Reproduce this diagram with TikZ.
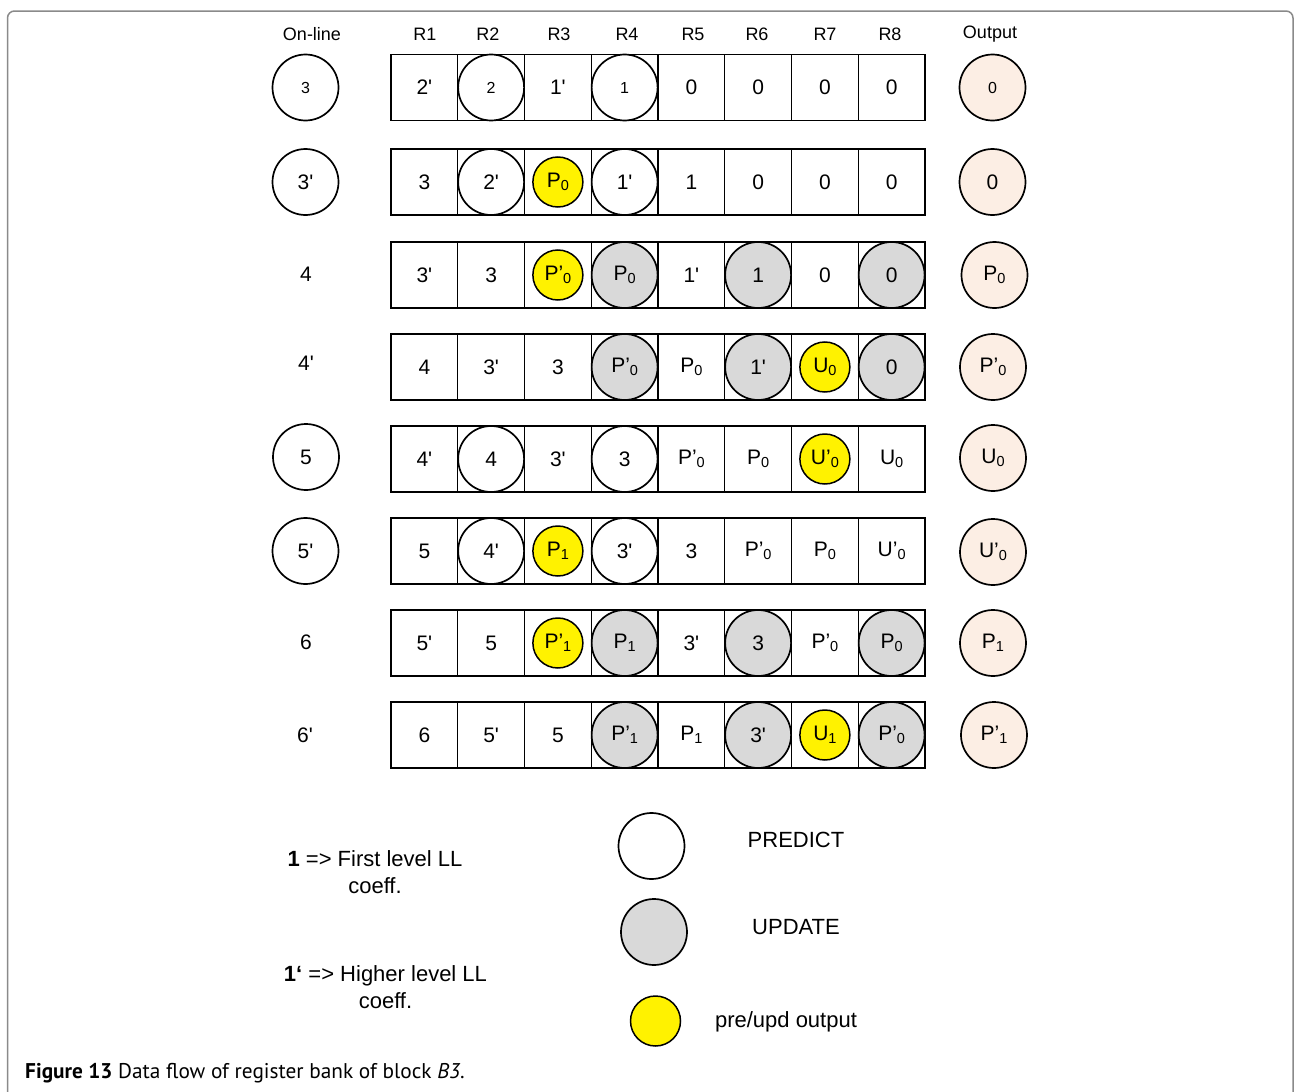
\documentclass[tikz,border=0pt]{standalone}
\usepackage{fontspec}
\newfontfamily\arial{Liberation Sans}
\newfontfamily\capfont{PT Sans}
\definecolor{updgray}{HTML}{D9D9D9}
\definecolor{outpeach}{HTML}{FCEEE4}
\definecolor{framegray}{HTML}{8A8A8A}
\newcommand\sbs[1]{\raisebox{-2.5pt}{\fontsize{14.5}{14.5}\selectfont #1}}
\newcommand\cc[4]{\node[#3] (t#1-#2) at (r#1-#2) {#4};}
\tikzset{
  base/.style={font=\arial\fontsize{21}{24}\selectfont, inner sep=0pt, text=black},
  small/.style={font=\arial\fontsize{16}{18}\selectfont},
  hdr/.style={base, font=\arial\fontsize{18}{20}\selectfont},
  leg/.style={base, font=\arial\fontsize{22}{27}\selectfont, align=center},
  cellbox/.style={draw, line width=1.1pt, minimum width=66.75pt, minimum height=66pt, inner sep=0pt},
  txt/.style={base},
  pc/.style={base, circle, draw, line width=1.7pt, fill=white, minimum size=66pt},
  uc/.style={pc, fill=updgray},
  yc/.style={base, circle, draw, line width=1.5pt, fill=yellow, minimum size=50pt},
  oc/.style={pc, fill=outpeach},
}
\begin{document}
\begin{tikzpicture}[x=1pt,y=-1pt]
\useasboundingbox[fill=white] (0,0) rectangle (1294,1092);
\draw[framegray, line width=1.5pt, rounded corners=7pt] (7.5,1100) |- (1293,11) -- (1293,1100);

% headers
\node[hdr] (hon) at (312,34) {On-line};
\foreach \k/\xx in {1/425,2/488,3/559,4/627,5/693,6/757,7/825,8/890}{
  \node[hdr] (h\k) at (\xx,34) {R\k};
}
\node[hdr] (hout) at (990,34) {Output};

% register cells
\foreach \r/\yy in {1/87.5,2/182,3/275,4/367,5/459,6/551,7/643,8/735}{
  \foreach \k in {1,...,8}{
    \node[cellbox] (r\r-\k) at ({391+66.75*(\k-0.5)},\yy) {};
  }
}

% row 1
\node[pc,small] (on1) at (305.5,87.5) {3};
\cc{1}{1}{txt}{2'}
\cc{1}{2}{pc,small}{2}
\cc{1}{3}{txt}{1'}
\cc{1}{4}{pc,small}{1}
\cc{1}{5}{txt}{0}
\cc{1}{6}{txt}{0}
\cc{1}{7}{txt}{0}
\cc{1}{8}{txt}{0}
\node[oc,small] (out1) at (992.5,87.5) {0};

% row 2
\node[pc] (on2) at (305.5,182) {3'};
\cc{2}{1}{txt}{3}
\cc{2}{2}{pc}{2'}
\cc{2}{3}{yc}{P\sbs{0}}
\cc{2}{4}{pc}{1'}
\cc{2}{5}{txt}{1}
\cc{2}{6}{txt}{0}
\cc{2}{7}{txt}{0}
\cc{2}{8}{txt}{0}
\node[oc] (out2) at (992.5,182) {0};

% row 3
\node[txt] (on3) at (306,274) {4};
\cc{3}{1}{txt}{3'}
\cc{3}{2}{txt}{3}
\cc{3}{3}{yc}{P’\sbs{0}}
\cc{3}{4}{uc}{P\sbs{0}}
\cc{3}{5}{txt}{1'}
\cc{3}{6}{uc}{1}
\cc{3}{7}{txt}{0}
\cc{3}{8}{uc}{0}
\node[oc] (out3) at (994.5,275) {P\sbs{0}};

% row 4
\node[txt] (on4) at (306,363) {4'};
\cc{4}{1}{txt}{4}
\cc{4}{2}{txt}{3'}
\cc{4}{3}{txt}{3}
\cc{4}{4}{uc}{P’\sbs{0}}
\cc{4}{5}{txt}{P\sbs{0}}
\cc{4}{6}{uc}{1'}
\cc{4}{7}{yc}{U\sbs{0}}
\cc{4}{8}{uc}{0}
\node[oc] (out4) at (993,367) {P’\sbs{0}};

% row 5
\node[pc] (on5) at (306,457) {5};
\cc{5}{1}{txt}{4'}
\cc{5}{2}{pc}{4}
\cc{5}{3}{txt}{3'}
\cc{5}{4}{pc}{3}
\cc{5}{5}{txt}{P’\sbs{0}}
\cc{5}{6}{txt}{P\sbs{0}}
\cc{5}{7}{yc}{U’\sbs{0}}
\cc{5}{8}{txt}{U\sbs{0}}
\node[oc] (out5) at (993,458) {U\sbs{0}};

% row 6
\node[pc] (on6) at (305.5,551) {5'};
\cc{6}{1}{txt}{5}
\cc{6}{2}{pc}{4'}
\cc{6}{3}{yc}{P\sbs{1}}
\cc{6}{4}{pc}{3'}
\cc{6}{5}{txt}{3}
\cc{6}{6}{txt}{P’\sbs{0}}
\cc{6}{7}{txt}{P\sbs{0}}
\cc{6}{8}{txt}{U’\sbs{0}}
\node[oc] (out6) at (993,552) {U’\sbs{0}};

% row 7
\node[txt] (on7) at (306,642) {6};
\cc{7}{1}{txt}{5'}
\cc{7}{2}{txt}{5}
\cc{7}{3}{yc}{P’\sbs{1}}
\cc{7}{4}{uc}{P\sbs{1}}
\cc{7}{5}{txt}{3'}
\cc{7}{6}{uc}{3}
\cc{7}{7}{txt}{P’\sbs{0}}
\cc{7}{8}{uc}{P\sbs{0}}
\node[oc] (out7) at (993,643) {P\sbs{1}};

% row 8
\node[txt] (on8) at (305,735) {6'};
\cc{8}{1}{txt}{6}
\cc{8}{2}{txt}{5'}
\cc{8}{3}{txt}{5}
\cc{8}{4}{uc}{P’\sbs{1}}
\cc{8}{5}{txt}{P\sbs{1}}
\cc{8}{6}{uc}{3'}
\cc{8}{7}{yc}{U\sbs{1}}
\cc{8}{8}{uc}{P’\sbs{0}}
\node[oc] (out8) at (994,735) {P’\sbs{1}};

% legend
\node[pc] (lp) at (651.5,846) {};
\node[uc] (lu) at (654,932) {};
\node[yc] (ly) at (655.5,1021) {};
\node[leg] (lpt) at (796,840) {PREDICT};
\node[leg] (lut) at (796,927) {UPDATE};
\node[leg] (lyt) at (786,1022) {pre/upd output};
\node[leg] (n1) at (375,872.5) {\textbf{1} => First level LL\\coeff.};
\node[leg] (n2) at (385.5,987) {\textbf{1‘} => Higher level LL\\coeff.};

% caption
\node[anchor=base west, inner sep=0pt, font=\capfont\fontsize{21.3}{24}\selectfont] (cap) at (25,1078) {\textbf{Figure 13} Data flow of register bank of block \textit{B3}.};
\end{tikzpicture}
\end{document}
